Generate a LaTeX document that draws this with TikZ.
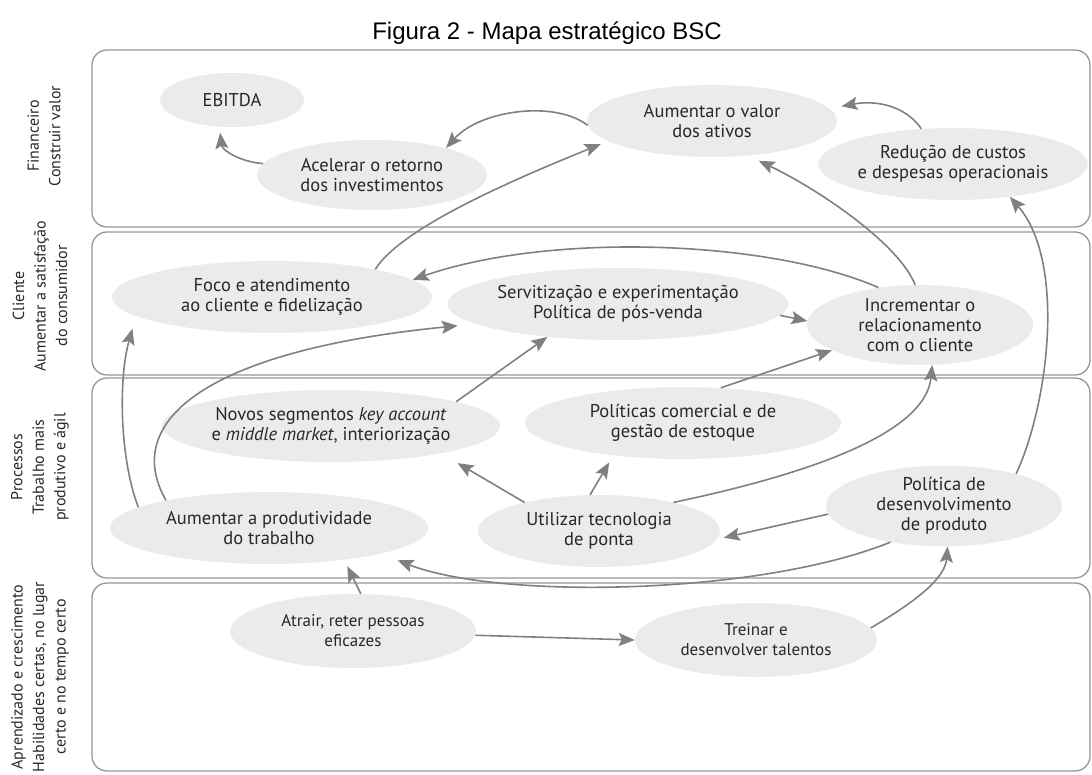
\documentclass[tikz,border=0pt]{standalone}
\usepackage{fontspec}
\setmainfont{PT Sans}
\newfontfamily\titlefont{Liberation Sans}
\usetikzlibrary{shapes.geometric,arrows.meta}
\definecolor{arr}{RGB}{128,128,132}
\definecolor{boxc}{RGB}{150,150,150}
\definecolor{ellfill}{RGB}{235,235,236}
\definecolor{txt}{RGB}{40,40,40}
\begin{document}
\begin{tikzpicture}[x=1pt,y=-1pt,
  ell/.style={ellipse,fill=ellfill,inner sep=0pt,align=center,text=txt,font=\fontsize{18.5}{20}\selectfont},
  conn/.style={draw=arr,line width=1.6pt,-{Stealth[length=16pt,width=13pt,inset=3pt]}},
  lane/.style={draw=boxc,line width=1.3pt,rounded corners=15pt},
  side/.style={rotate=90,align=center,text=txt,font=\fontsize{16}{21.5}\selectfont}]
\useasboundingbox (0,0) rectangle (1092,775);
% title
\node[font=\titlefont\fontsize{24}{28}\selectfont] (title) at (547,33) {Figura 2 - Mapa estratégico BSC};
% lanes
\draw[lane] (92,50) rectangle (1090,227);
\draw[lane] (92,232) rectangle (1090,375);
\draw[lane] (92,378) rectangle (1090,578);
\draw[lane] (92,583) rectangle (1090,771);
% side labels
\node[side] (lfin) at (44,136) {Financeiro\\Construir valor};
\node[side] (lcli) at (40,296) {Cliente\\Aumentar a satisfação\\do consumidor};
\node[side] (lpro) at (40,467) {Processos\\Trabalho mais\\produtivo e ágil};
\node[side] (lapr) at (40,677) {Aprendizado e crescimento\\Habilidades certas, no lugar\\certo e no tempo certo};
% nodes
\node[ell,minimum width=144pt,minimum height=54pt] (ebitda) at (232,100) {EBITDA};
\node[ell,minimum width=230pt,minimum height=70pt] (acel) at (372,175) {Acelerar o retorno\\dos investimentos};
\node[ell,minimum width=250pt,minimum height=72pt] (val) at (712,121) {Aumentar o valor\\dos ativos};
\node[ell,minimum width=250pt,minimum height=72pt] (red) at (953,164) {Redução de custos\\e despesas operacionais};
\node[ell,minimum width=320pt,minimum height=72pt] (foco) at (272,297) {Foco e atendimento\\ao cliente e fidelização};
\node[ell,minimum width=316pt,minimum height=72pt] (serv) at (618,304) {Servitização e experimentação\\Política de pós-venda};
\node[ell,minimum width=226pt,minimum height=80pt] (inc) at (920,325) {Incrementar o\\relacionamento\\com o cliente};
\node[ell,minimum width=316pt,minimum height=72pt] (novos) at (331,426) {Novos segmentos \textit{key account}\\e \textit{middle market}, interiorização};
\node[ell,minimum width=316pt,minimum height=72pt] (pol) at (683,423) {Políticas comercial e de\\gestão de estoque};
\node[ell,minimum width=318pt,minimum height=72pt] (prod) at (269,528) {Aumentar a produtividade\\do trabalho};
\node[ell,minimum width=242pt,minimum height=72pt] (util) at (599,531) {Utilizar tecnologia\\de ponta};
\node[ell,minimum width=236pt,minimum height=74pt] (dev) at (944,506) {Política de\\desenvolvimento\\de produto};
\node[ell,minimum width=246pt,minimum height=74pt,font=\fontsize{17}{20}\selectfont] (atr) at (353,631) {Atrair, reter pessoas\\eficazes};
\node[ell,minimum width=242pt,minimum height=74pt,font=\fontsize{17}{20}\selectfont] (trein) at (756,640) {Treinar e\\desenvolver talentos};
% connectors
\draw[conn,shorten >=6pt] (acel.174) .. controls (240,162) and (222,150) .. (ebitda.245);
\draw[conn] (val.182) .. controls (555,100) and (480,110) .. (acel.20);
\draw[conn,shorten >=8pt] (foco.15) .. controls (400,230) and (500,185) .. (val.191);
\draw[conn,shorten >=12pt] (inc.97) .. controls (900,245) and (820,190) .. (val.-44);
\draw[conn] (dev.24) .. controls (1050,400) and (1065,260) .. (red.-30);
\draw[conn,shorten >=12pt] (red.132) .. controls (905,105) and (875,100) .. (val.6);
\draw[conn] (inc.138) .. controls (770,240) and (550,232) .. (foco.7);
\draw[conn] (serv.-4) -- (inc.178);
\draw[conn] (pol.43) -- (inc.196);
\draw[conn] (util.21) .. controls (780,480) and (925,440) .. (inc.-73);
\draw[conn,shorten >=13pt] (prod.171) .. controls (120,460) and (118,380) .. (foco.188);
\draw[conn,shorten >=18pt] (prod.165) .. controls (120,420) and (210,350) .. (serv.188);
\draw[conn] (novos.11) -- (serv.205);
\draw[conn,shorten >=19pt] (util.159) -- (novos.-14);
\draw[conn,shorten >=8pt] (util.104) -- (pol.205);
\draw[conn,shorten >=7pt] (dev.184) -- (util.-4);
\draw[conn,shorten >=18pt] (dev.214) .. controls (760,595) and (500,600) .. (prod.-13);
\draw[conn,shorten >=7pt] (atr.78) -- (prod.-23);
\draw[conn] (atr.-2) -- (trein.180);
\draw[conn] (trein.6) .. controls (910,605) and (945,580) .. (dev.-85);
\end{tikzpicture}
\end{document}
